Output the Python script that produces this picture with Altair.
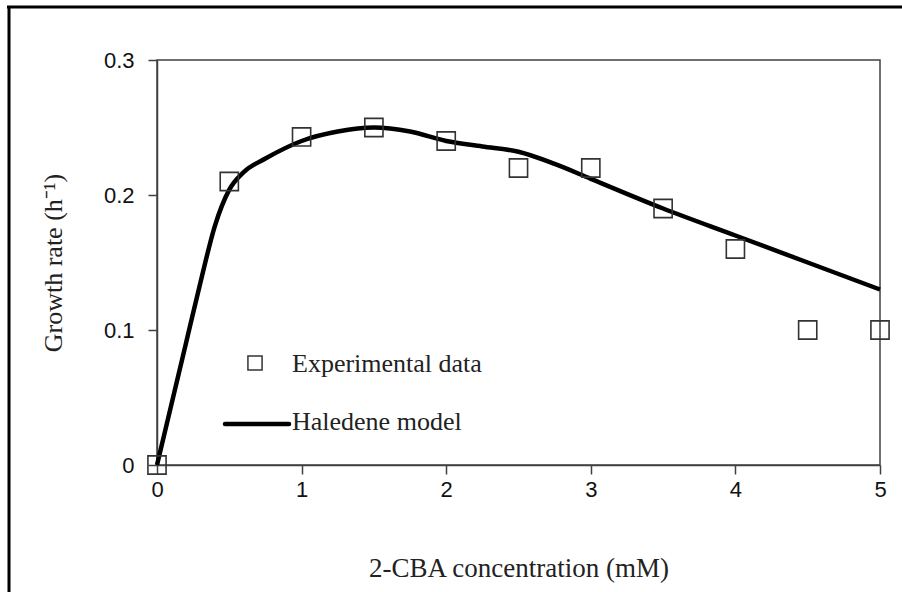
import altair as alt
import pandas as pd

# Experimental data
exp_x = [0, 0.5, 1.0, 1.5, 2.0, 2.5, 3.0, 3.5, 4.0, 4.5, 5.0]
exp_y = [0.0, 0.21, 0.243, 0.25, 0.24, 0.22, 0.22, 0.19, 0.16, 0.10, 0.10]

# Haldane model curve
mod_x = [0, 0.1, 0.2, 0.3, 0.4, 0.5, 0.6, 0.75, 1.0, 1.25, 1.5, 1.75, 2.0,
         2.25, 2.5, 2.75, 3.0, 3.5, 4.0, 4.5, 5.0]
mod_y = [0.0, 0.045, 0.09, 0.135, 0.177, 0.204, 0.217, 0.227, 0.24, 0.247,
         0.25, 0.247, 0.24, 0.236, 0.232, 0.223, 0.212, 0.19, 0.17, 0.15, 0.13]

x_ticks = [0, 1, 2, 3, 4, 5]
y_ticks = [0, 0.1, 0.2, 0.3]

legend_labels = ["Experimental data", "Haledene model"]

exp_df = pd.DataFrame({"x": exp_x, "y": exp_y})
mod_df = pd.DataFrame({"x": mod_x, "y": mod_y})

AX = "#404040"
SANS = "Liberation Sans"
SERIF = "Liberation Serif"

xscale = alt.Scale(domain=[0, 5], nice=False, zero=False)
yscale = alt.Scale(domain=[0, 0.3], nice=False)

xaxis = alt.Axis(values=x_ticks, title="2-CBA concentration (mM)", grid=False,
                 format="d",
                 domainColor=AX, domainWidth=1.5, tickColor=AX, tickWidth=1.5,
                 tickSize=9, labelFont=SANS, labelFontSize=22, labelColor="#111",
                 labelPadding=5, titleFont=SERIF, titleFontSize=27,
                 titleFontWeight="normal", titleColor="#222", titlePadding=55,
                 labelFlush=False)
yaxis = alt.Axis(values=y_ticks, title="Growth rate (h⁻¹)", grid=False,
                 domainColor=AX, domainWidth=1.5, tickColor=AX, tickWidth=1.5,
                 tickSize=9, labelFont=SANS, labelFontSize=22, labelColor="#111",
                 labelPadding=14,
                 labelExpr="datum.value == 0 ? '0' : format(datum.value, '.1f')",
                 titleFont=SERIF, titleFontSize=26, titleFontWeight="normal",
                 titleColor="#222", titlePadding=37, labelFlush=False)

line = alt.Chart(mod_df).mark_line(color="black", strokeWidth=4.5,
                                   interpolate="monotone").encode(
    x=alt.X("x:Q", scale=xscale, axis=xaxis),
    y=alt.Y("y:Q", scale=yscale, axis=yaxis),
)

pts = alt.Chart(exp_df).mark_point(shape="square", filled=False, size=330,
                                   color="#333", strokeWidth=1.6, opacity=1).encode(
    x=alt.X("x:Q", scale=xscale),
    y=alt.Y("y:Q", scale=yscale),
)

leg_df = pd.DataFrame({"label": legend_labels})

leg_sq = alt.Chart(leg_df).transform_filter(
    alt.datum.label == legend_labels[0]).mark_point(
    shape="square", filled=False, size=200, color="#333", strokeWidth=1.5,
    opacity=1).encode(x=alt.value(98), y=alt.value(303))

leg_ln = alt.Chart(leg_df).transform_filter(
    alt.datum.label == legend_labels[1]).mark_rule(
    color="black", strokeWidth=4.5, strokeCap="round").encode(
    x=alt.value(68), x2=alt.value(132), y=alt.value(364))

leg_t1 = alt.Chart(leg_df).transform_filter(
    alt.datum.label == legend_labels[0]).mark_text(
    align="left", baseline="alphabetic", font=SERIF, fontSize=26, color="#222").encode(
    x=alt.value(135), y=alt.value(312), text="label:N")

leg_t2 = alt.Chart(leg_df).transform_filter(
    alt.datum.label == legend_labels[1]).mark_text(
    align="left", baseline="alphabetic", font=SERIF, fontSize=26, color="#222").encode(
    x=alt.value(135), y=alt.value(370), text="label:N")

frame_top = alt.Chart(leg_df).transform_filter(
    alt.datum.label == legend_labels[0]).mark_rule(
    color="black", strokeWidth=3).encode(
    x=alt.value(-150), x2=alt.value(750), y=alt.value(-53))
frame_left = alt.Chart(leg_df).transform_filter(
    alt.datum.label == legend_labels[0]).mark_rule(
    color="black", strokeWidth=3).encode(
    x=alt.value(-148), y=alt.value(-54), y2=alt.value(540))

chart = alt.layer(line, pts, leg_sq, leg_ln, leg_t1, leg_t2, frame_top,
                  frame_left).properties(
    width=723, height=405,
    autosize=alt.AutoSizeParams(type="none"),
    padding={"left": 157, "top": 60, "right": 22, "bottom": 127},
    background="white",
).configure_view(stroke=AX, strokeWidth=1.5)

chart.save("out.html", embed_options={"renderer": "svg", "actions": False})
